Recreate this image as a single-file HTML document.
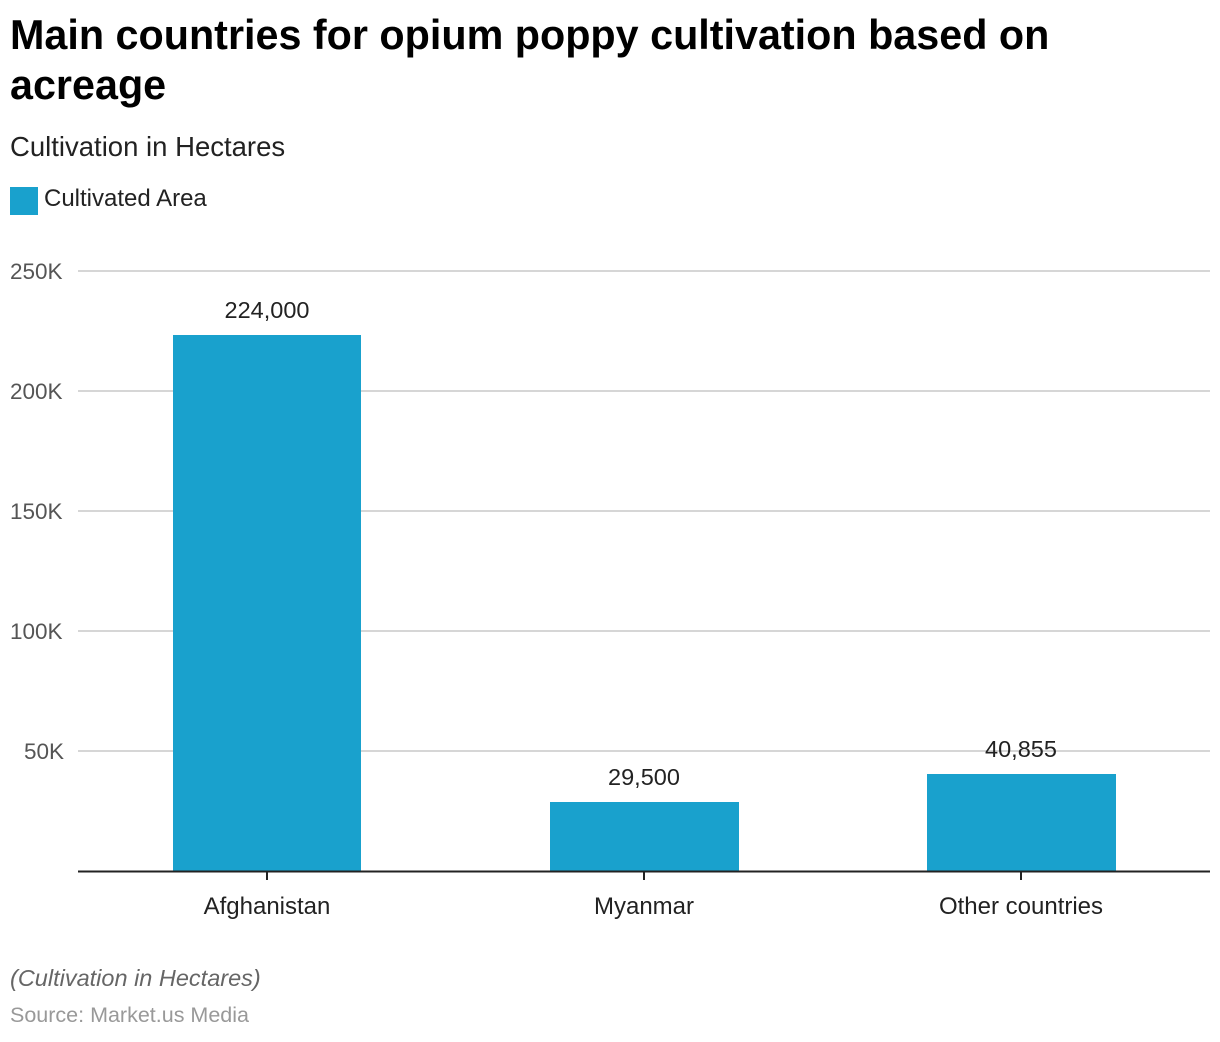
<!DOCTYPE html>
<html><head><meta charset="utf-8"><style>
body{margin:0;width:1220px;height:1042px;background:#fff;font-family:"Liberation Sans",Arial,sans-serif;position:relative;overflow:hidden}
.a{position:absolute;white-space:nowrap}
</style></head><body>
<div class="a" style="left:10px;top:10px;font-size:41.3px;font-weight:bold;line-height:50px;color:#000">Main countries for opium poppy cultivation based on<br>acreage</div>
<div class="a" style="left:10px;top:131px;font-size:27.5px;color:#222">Cultivation in Hectares</div>
<div class="a" style="left:10px;top:187px;width:28px;height:28px;background:#19a1cd"></div>
<div class="a" style="left:44px;top:185px;font-size:24px;color:#222">Cultivated Area</div>
<svg class="a" style="left:0;top:0" width="1220" height="1042">
<g stroke="#d6d6d6" stroke-width="2">
<line x1="78" x2="1210" y1="271" y2="271"/><line x1="78" x2="1210" y1="391" y2="391"/>
<line x1="78" x2="1210" y1="511" y2="511"/><line x1="78" x2="1210" y1="631" y2="631"/>
<line x1="78" x2="1210" y1="751" y2="751"/></g>
<g font-size="22.5" fill="#555" font-family="Liberation Sans,Arial,sans-serif">
<text x="10" y="279">250K</text><text x="10" y="399">200K</text><text x="10" y="519">150K</text><text x="10" y="639">100K</text><text x="24" y="759">50K</text></g>
<g fill="#19a1cd">
<rect x="173" y="335" width="188" height="536"/>
<rect x="550" y="802" width="189" height="69"/>
<rect x="927" y="774" width="189" height="97"/></g>
<line x1="78" x2="1210" y1="871.5" y2="871.5" stroke="#222" stroke-width="2"/>
<g stroke="#222" stroke-width="2"><line x1="267" x2="267" y1="871" y2="880"/><line x1="644" x2="644" y1="871" y2="880"/><line x1="1021" x2="1021" y1="871" y2="880"/></g>
<g font-size="23.5" fill="#222" text-anchor="middle" font-family="Liberation Sans,Arial,sans-serif">
<text x="267" y="318">224,000</text><text x="644" y="785">29,500</text><text x="1021" y="757">40,855</text></g>
<g font-size="24" fill="#222" text-anchor="middle" font-family="Liberation Sans,Arial,sans-serif">
<text x="267" y="914">Afghanistan</text><text x="644" y="914">Myanmar</text><text x="1021" y="914">Other countries</text></g>
</svg>
<div class="a" style="left:10px;top:965px;font-size:23.5px;font-style:italic;color:#666">(Cultivation in Hectares)</div>
<div class="a" style="left:10px;top:1003px;font-size:21.5px;color:#999">Source: Market.us Media</div>
</body></html>
